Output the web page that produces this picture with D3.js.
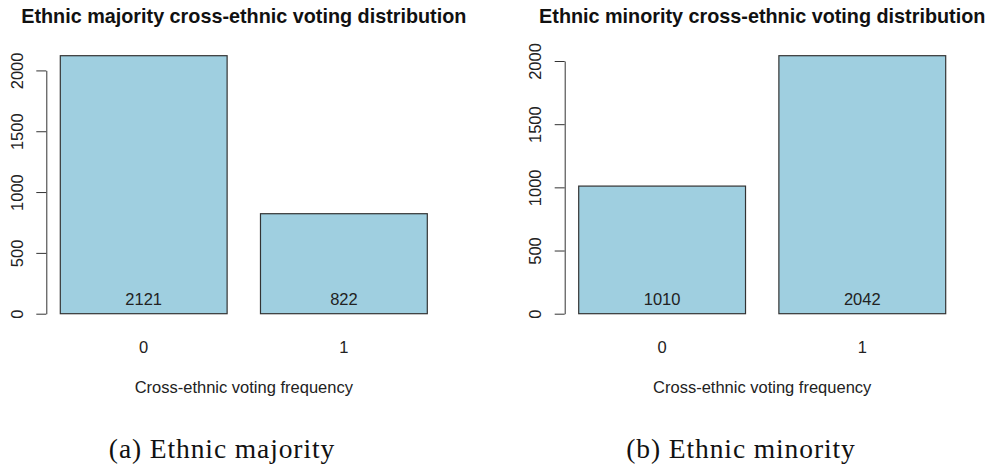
<!DOCTYPE html>
<html>
<head>
<meta charset="utf-8">
<script src="https://cdn.jsdelivr.net/npm/d3@7"></script>
<style>
  html, body { margin: 0; padding: 0; background: #fff; }
  svg { display: block; }
  .sans { font-family: "Liberation Sans", Arial, Helvetica, sans-serif; }
  .serif { font-family: "Liberation Serif", "Times New Roman", serif; }
</style>
</head>
<body>
<svg id="chart" width="992" height="467"></svg>
<script>
// Cross-ethnic voting counts, one panel per group
const categories = ["0", "1"];
const majorityValues = [2121, 822];
const minorityValues = [1010, 2042];
const yTicks = [0, 500, 1000, 1500, 2000];
const titles = [
  "Ethnic majority cross-ethnic voting distribution",
  "Ethnic minority cross-ethnic voting distribution"
];
const xLabel = "Cross-ethnic voting frequency";
const captions = ["(a) Ethnic majority", "(b) Ethnic minority"];

const svg = d3.select("#chart");

const panels = [
  { values: majorityValues, title: titles[0], caption: captions[0], left: 60.3, captionX: 222 },
  { values: minorityValues, title: titles[1], caption: captions[1], left: 578.7, captionX: 741 }
];

const plotWidth = 367;
const baseY = 313.7;
const topY = 55.7;

panels.forEach(p => {
  const g = svg.append("g");

  const x = d3.scaleBand()
    .domain(categories)
    .range([p.left, p.left + plotWidth])
    .paddingInner(0.2 / 1.2)
    .paddingOuter(0);

  const y = d3.scaleLinear()
    .domain([0, d3.max(p.values)])
    .range([baseY, topY]);

  const centerX = p.left + plotWidth / 2;
  const axisX = p.left - 14;

  // title
  g.append("text")
    .attr("class", "sans")
    .attr("x", centerX)
    .attr("y", 23)
    .attr("text-anchor", "middle")
    .attr("font-size", 19.8)
    .attr("font-weight", "bold")
    .attr("fill", "#111")
    .text(p.title);

  // bars
  g.selectAll("rect.bar")
    .data(p.values)
    .join("rect")
    .attr("class", "bar")
    .attr("x", (d, i) => x(categories[i]))
    .attr("y", d => y(d))
    .attr("width", x.bandwidth())
    .attr("height", d => y(0) - y(d))
    .attr("fill", "#9fcfe0")
    .attr("stroke", "#333")
    .attr("stroke-width", 1.2);

  // count labels near the bar base
  g.selectAll("text.count")
    .data(p.values)
    .join("text")
    .attr("class", "count sans")
    .attr("x", (d, i) => x(categories[i]) + x.bandwidth() / 2)
    .attr("y", y(0) - 9)
    .attr("text-anchor", "middle")
    .attr("font-size", 16.5)
    .attr("fill", "#222")
    .text(d => d);

  // category labels
  g.selectAll("text.cat")
    .data(categories)
    .join("text")
    .attr("class", "cat sans")
    .attr("x", d => x(d) + x.bandwidth() / 2)
    .attr("y", 353.3)
    .attr("text-anchor", "middle")
    .attr("font-size", 16.5)
    .attr("fill", "#222")
    .text(d => d);

  // y axis spanning the tick range only
  const yAxisScale = y.copy()
    .domain([yTicks[0], yTicks[yTicks.length - 1]])
    .range([y(yTicks[0]), y(yTicks[yTicks.length - 1])]);

  const ax = g.append("g")
    .attr("transform", `translate(${axisX},0)`)
    .call(d3.axisLeft(yAxisScale).tickValues(yTicks).tickSize(10).tickSizeOuter(0).tickFormat(d3.format("d")));

  ax.select(".domain").attr("stroke", "#333").attr("stroke-width", 1);
  ax.selectAll(".tick line").attr("stroke", "#333").attr("stroke-width", 1);
  ax.selectAll(".tick text")
    .attr("class", "sans")
    .attr("transform", "rotate(-90)")
    .attr("x", 0)
    .attr("y", -23.4)
    .attr("dy", null)
    .attr("text-anchor", "middle")
    .attr("font-size", 16.5)
    .attr("fill", "#222");

  // x label
  g.append("text")
    .attr("class", "sans")
    .attr("x", centerX)
    .attr("y", 393.3)
    .attr("text-anchor", "middle")
    .attr("font-size", 16.5)
    .attr("fill", "#222")
    .text(xLabel);

  // caption
  g.append("text")
    .attr("class", "serif")
    .attr("x", p.captionX)
    .attr("y", 458)
    .attr("text-anchor", "middle")
    .attr("font-size", 27.5)
    .attr("letter-spacing", 0.9)
    .attr("fill", "#111")
    .text(p.caption);
});
</script>
</body>
</html>
